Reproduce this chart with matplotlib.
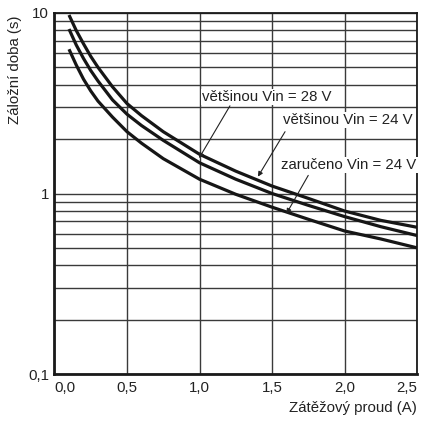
import matplotlib
matplotlib.use("Agg")
import matplotlib.pyplot as plt
from matplotlib.ticker import FixedLocator, NullFormatter

# Data
current = [0.1, 0.15, 0.2, 0.25, 0.3, 0.4, 0.5, 0.6, 0.75, 1.0, 1.25, 1.5, 1.75, 2.0, 2.25, 2.5]
mostly_28 = [9.75, 8.0, 6.75, 5.75, 5.0, 3.9, 3.15, 2.7, 2.2, 1.65, 1.33, 1.1, 0.94, 0.8, 0.71, 0.65]
mostly_24 = [8.15, 6.65, 5.6, 4.8, 4.2, 3.3, 2.75, 2.38, 1.97, 1.48, 1.2, 1.0, 0.86, 0.745, 0.655, 0.585]
guaranteed_24 = [6.3, 5.15, 4.3, 3.7, 3.25, 2.65, 2.2, 1.9, 1.56, 1.2, 0.99, 0.84, 0.72, 0.62, 0.56, 0.5]

x_ticks = [0.0, 0.5, 1.0, 1.5, 2.0, 2.5]
x_tick_labels = ["0,0", "0,5", "1,0", "1,5", "2,0", "2,5"]
y_ticks = [0.1, 1, 10]
y_tick_labels = ["0,1", "1", "10"]

labels = ["většinou Vin = 28 V", "většinou Vin = 24 V", "zaručeno Vin = 24 V"]

plt.rcParams['font.family'] = ['Liberation Sans', 'DejaVu Sans']

fig = plt.figure(figsize=(4.21, 4.25), dpi=100)
ax = fig.add_axes([54.5/421, 1-374/425, (417-54.5)/421, (374-13)/425])

ax.set_yscale('log')
ax.set_xlim(0, 2.5)
ax.set_ylim(0.1, 10)

# grid
minor = [m * d for d in (0.1, 1) for m in range(2, 10)]
ax.yaxis.set_major_locator(FixedLocator(y_ticks))
ax.yaxis.set_minor_locator(FixedLocator(minor))
ax.yaxis.set_minor_formatter(NullFormatter())
ax.set_yticklabels(y_tick_labels)
ax.set_xticks(x_ticks)
ax.set_xticklabels(x_tick_labels)
ax.grid(True, which='both', axis='y', color='#3a3a3a', lw=1.0)
ax.grid(True, which='major', axis='x', color='#3a3a3a', lw=1.0)
ax.tick_params(which='both', length=0, labelsize=10.8, colors='#222222')
ax.tick_params(axis='x', pad=5)
ax.tick_params(axis='y', pad=4)
xt = ax.get_xticklabels()
xt[0].set_horizontalalignment('left')
xt[-1].set_horizontalalignment('right')

for s in ax.spines.values():
    s.set_color('#1a1a1a')
    s.set_linewidth(1.3)
ax.spines['left'].set_linewidth(2.0)
ax.spines['bottom'].set_linewidth(2.0)

for series in (mostly_28, mostly_24, guaranteed_24):
    ax.plot(current, series, color='#161616', lw=2.3, solid_capstyle='butt',
            solid_joinstyle='round', zorder=3)

bbox = dict(facecolor='white', edgecolor='none', pad=1.0)
arrow = dict(arrowstyle='-|>', color='#222222', lw=0.8, mutation_scale=7, shrinkA=0, shrinkB=0)

ax.text(1.466, 3.43, labels[0], ha='center', va='center', fontsize=10.8,
        color='#222222', bbox=bbox, zorder=5)
ax.annotate('', xy=(0.997, 1.57), xytext=(1.21, 3.06), arrowprops=arrow, zorder=5)

ax.text(2.02, 2.55, labels[1], ha='center', va='center', fontsize=10.8,
        color='#222222', bbox=bbox, zorder=5)
ax.annotate('', xy=(1.403, 1.24), xytext=(1.59, 2.2), arrowprops=arrow, zorder=5)

ax.text(2.03, 1.437, labels[2], ha='center', va='center', fontsize=10.8,
        color='#222222', bbox=bbox, zorder=5)
ax.annotate('', xy=(1.60, 0.774), xytext=(1.75, 1.26), arrowprops=arrow, zorder=5)

fig.text(417/421, 1-408/425, "Zátěžový proud (A)", ha='right', va='center',
         fontsize=10.8, color='#222222')
fig.text(15/421, 1-70/425, "Záložní doba (s)", ha='center', va='center', rotation=90,
         fontsize=10.8, color='#222222')

fig.savefig("out.png", dpi=100, facecolor='white')
